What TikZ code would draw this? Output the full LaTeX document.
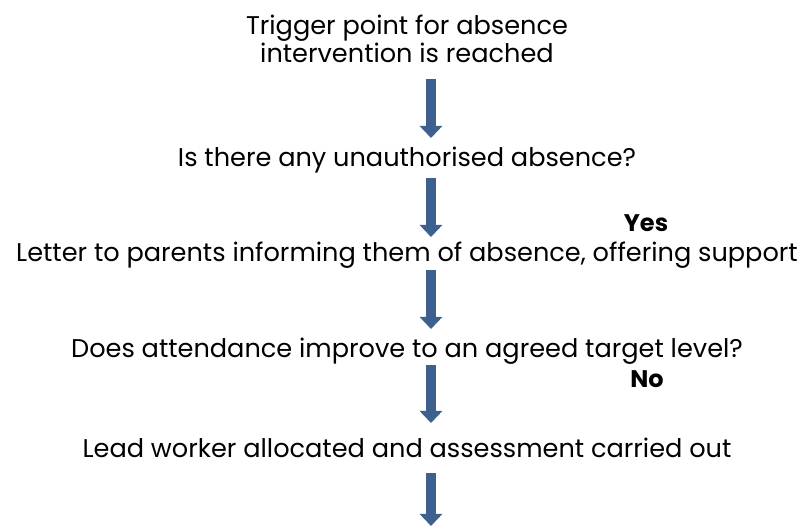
\documentclass[tikz,border=0pt]{standalone}
\usepackage{fontspec}
\setmainfont{Poppins}
\usetikzlibrary{arrows.meta}
\definecolor{arrowblue}{RGB}{61,96,143}

\begin{document}
\begin{tikzpicture}[
  x=1pt, y=-1pt,
  stage/.style={anchor=base, inner sep=0pt, font=\fontsize{25.6}{28}\selectfont},
  answer/.style={stage, font=\fontsize{24}{28}\selectfont\bfseries},
  down/.style={draw=arrowblue, line width=10pt, -{Triangle[width=22pt,length=12pt]}}]
\useasboundingbox (0,0) rectangle (804,526);

% base of a two-line node sits on its last line
\node[stage, align=center] (trigger) at (407,63) {Trigger point for absence\\intervention is reached};
\node[stage] (unauth) at (407,167) {Is there any unauthorised absence?};
\node[answer] (yes) at (646,232) {Yes};
\node[stage] (letter) at (407,262) {Letter to parents informing them of absence, offering support};
\node[stage] (improve) at (407,358) {Does attendance improve to an agreed target level?};
\node[answer] (no) at (647,388) {No};
\node[stage] (lead) at (407,458) {Lead worker allocated and assessment carried out};

% arrow ends, all on one column
\coordinate (s1) at (431,79);  \coordinate (e1) at (431,138);
\coordinate (s2) at (431,178); \coordinate (e2) at (431,237);
\coordinate (s3) at (431,270); \coordinate (e3) at (431,329);
\coordinate (s4) at (431,365); \coordinate (e4) at (431,423);
\coordinate (s5) at (431,473); \coordinate (e5) at (431,526);

\draw[down] (s1) -- (e1);
\draw[down] (s2) -- (e2);
\draw[down] (s3) -- (e3);
\draw[down] (s4) -- (e4);
\draw[down] (s5) -- (e5);
\end{tikzpicture}
\end{document}
